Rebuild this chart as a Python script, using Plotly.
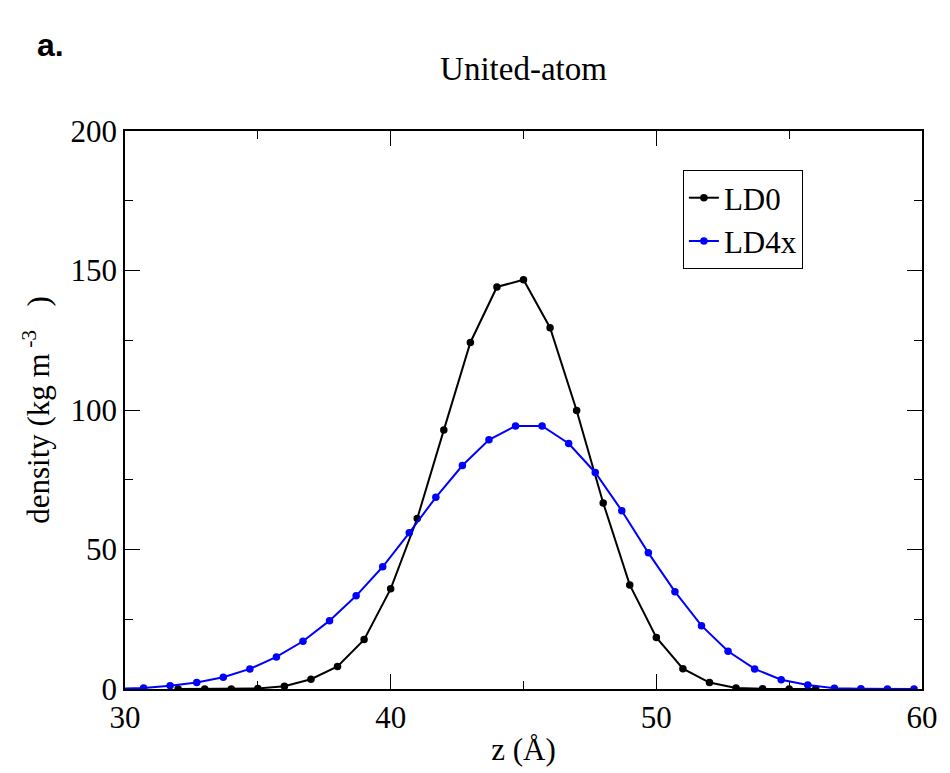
import plotly.graph_objects as go

z_ld0 = [32, 33, 34, 35, 36, 37, 38, 39, 40, 41, 42, 43, 44, 45, 46, 47, 48, 49, 50, 51, 52, 53, 54, 55, 56]
rho_ld0 = [0.0, 0.0, 0.0, 0.2, 1.0, 3.5, 8.1, 17.7, 35.9, 61.1, 92.8, 124.2, 144.1, 146.7, 129.5, 99.8,
           66.7, 37.3, 18.5, 7.3, 2.3, 0.4, 0.1, 0.0, 0.0]

z_ld4x = [29.7, 30.7, 31.7, 32.7, 33.7, 34.7, 35.7, 36.7, 37.7, 38.7, 39.7, 40.7, 41.7, 42.7, 43.7, 44.7,
          45.7, 46.7, 47.7, 48.7, 49.7, 50.7, 51.7, 52.7, 53.7, 54.7, 55.7, 56.7, 57.7, 58.7, 59.7]
rho_ld4x = [0.1, 0.4, 1.2, 2.3, 4.2, 7.2, 11.5, 17.1, 24.5, 33.4, 43.8, 56.0, 68.7, 80.1, 89.3, 94.3,
            94.3, 88.0, 77.6, 63.9, 48.8, 34.9, 22.7, 13.5, 7.2, 3.3, 1.4, 0.3, 0.1, 0.0, 0.0]

serif = "Liberation Serif, Times New Roman, serif"

fig = go.Figure()
fig.add_trace(go.Scatter(x=z_ld0, y=rho_ld0, mode="lines+markers", name="LD0",
                         line=dict(color="black", width=2), marker=dict(color="black", size=7.5)))
fig.add_trace(go.Scatter(x=z_ld4x, y=rho_ld4x, mode="lines+markers", name="LD4x",
                         line=dict(color="#0000ff", width=2), marker=dict(color="#0000ff", size=7.5)))

axis_common = dict(showline=True, linecolor="black", linewidth=1.5, mirror="allticks",
                   ticks="inside", ticklen=15, tickwidth=1.2, tickcolor="black",
                   showgrid=False, zeroline=False,
                   tickfont=dict(family=serif, size=31, color="black"),
                   minor=dict(ticks="inside", ticklen=8, tickwidth=1.2, tickcolor="black"))

fig.update_xaxes(range=[30, 60], tick0=30, dtick=10, minor_dtick=5,
                 title=dict(text="z (Å)", font=dict(family=serif, size=31, color="black"), standoff=4),
                 **axis_common)
fig.update_yaxes(range=[0, 200], tick0=0, dtick=50, minor_dtick=25,
                 title=dict(text="density (kg m<sup> -3</sup>   )", font=dict(family=serif, size=31, color="black"), standoff=12),
                 **axis_common)

fig.update_layout(
    width=950, height=773,
    margin=dict(l=125, r=21, t=131, b=81),
    paper_bgcolor="white", plot_bgcolor="white",
    title=dict(text="United-atom", xref="paper", x=0.5, xanchor="center", y=0.912, yanchor="middle",
               font=dict(family=serif, size=33, color="black")),
    showlegend=True,
    legend=dict(x=0.70, y=0.93, xanchor="left", yanchor="top",
                bordercolor="black", borderwidth=1, bgcolor="white",
                font=dict(family=serif, size=31, color="black"),
                itemwidth=30, tracegroupgap=0),
    annotations=[dict(text="<b>a.</b>", showarrow=False, xref="paper", yref="paper",
                      x=(34 - 125) / (950 - 125 - 21), y=1 + (131 - 45) / (773 - 131 - 81),
                      xanchor="left", yanchor="middle",
                      font=dict(family="Liberation Sans, Arial, sans-serif", size=32, color="black"))],
)

fig.write_html("out.html")
